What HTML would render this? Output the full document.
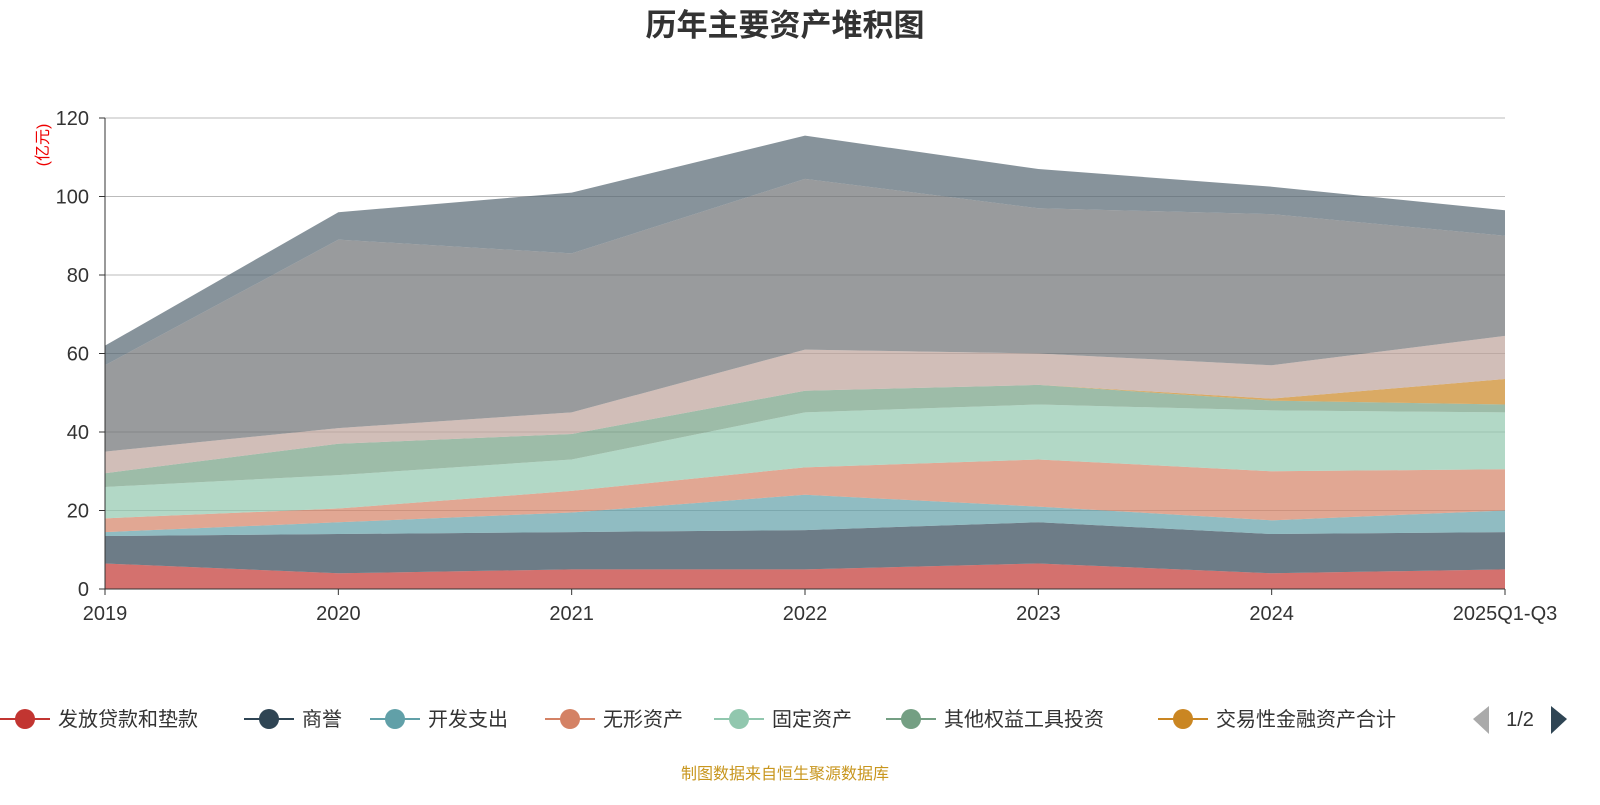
<!DOCTYPE html>
<html><head><meta charset="utf-8">
<style>
body{margin:0;background:#fff;font-family:"Liberation Sans","Noto Sans CJK SC",sans-serif;}
svg text{font-family:"Liberation Sans","Noto Sans CJK SC",sans-serif;}
</style></head>
<body>
<svg id="chart" width="1600" height="800">
<text x="785" y="36" text-anchor="middle" font-size="31" font-weight="bold" fill="#333">历年主要资产堆积图</text>
<text transform="translate(48,145) rotate(-90)" text-anchor="middle" font-size="16" fill="#e00">(亿元)</text>
<g id="grid"></g><g id="areas"></g><g id="axes"></g><g id="legend"></g>
<text x="785" y="779" text-anchor="middle" font-size="16" fill="#c8961e">制图数据来自恒生聚源数据库</text>
</svg>
<script>
const categories=["2019","2020","2021","2022","2023","2024","2025Q1-Q3"];
const seriesNames=["发放贷款和垫款","商誉","开发支出","无形资产","固定资产","其他权益工具投资","交易性金融资产合计","长期股权投资","货币资金","其他资产"];
const s1=[6.5,4,5,5,6.5,4,5];
const s2=[7,10,9.5,10,10.5,10,9.5];
const s3=[1,3,5,9,4,3.5,5.5];
const s4=[3.5,3.5,5.5,7,12,12.5,10.5];
const s5=[8,8.5,8,14,14,15.5,14.5];
const s6=[3.5,8,6.5,5.5,5,2.5,2];
const s7=[0,0,0,0,0,0.5,6.5];
const s8=[5.5,4,5.5,10.5,8,8.5,11];
const s9=[22,48,40.5,43.5,37,38.5,25.5];
const s10=[5,7,15.5,11,10,7,6.5];
const yTicks=[0,20,40,60,80,100,120];
const colors=["#c23531","#2f4554","#61a0a8","#d48265","#91c7ae","#749f83","#ca8622","#bda29a","#6e7074","#546570"];
const series=[s1,s2,s3,s4,s5,s6,s7,s8,s9,s10];
const X0=105,X1=1505,Y0=589,Y1=118,YMAX=120;
const xs=i=>X0+i*(X1-X0)/(categories.length-1);
const ys=v=>Y0-v*(Y0-Y1)/YMAX;
const NS="http://www.w3.org/2000/svg";
function mk(tag,attrs,parent){const e=document.createElementNS(NS,tag);for(const k in attrs)e.setAttribute(k,attrs[k]);parent.appendChild(e);return e;}
const grid=document.getElementById('grid'),areas=document.getElementById('areas'),axes=document.getElementById('axes'),legend=document.getElementById('legend');
yTicks.forEach(t=>{
 if(t>0){const l=mk('line',{x1:X0,x2:X1,y1:ys(t),y2:ys(t),stroke:'#bbb','stroke-width':1},grid);
 
 }
 const tx=mk('text',{x:X0-16,y:ys(t)+7,'text-anchor':'end','font-size':20,fill:'#333'},axes);tx.textContent=t;
 
 
 mk('line',{x1:X0-6,x2:X0,y1:ys(t),y2:ys(t),stroke:'#333'},axes);
});
let base=categories.map(()=>0);
series.forEach((s,k)=>{
 const top=base.map((b,i)=>b+s[i]);
 let d='M'+top.map((v,i)=>xs(i)+','+ys(v)).join(' L');
 for(let i=categories.length-1;i>=0;i--)d+=' L'+xs(i)+','+ys(base[i]);
 d+='Z';
 const p=mk('path',{d:d,fill:colors[k],'fill-opacity':0.7,stroke:'none'},areas);
 
 
 base=top;
});
mk('line',{x1:X0,x2:X0,y1:Y1,y2:Y0,stroke:'#333'},axes);
mk('line',{x1:X0,x2:X1,y1:Y0,y2:Y0,stroke:'#333'},axes);
categories.forEach((c,i)=>{
 mk('line',{x1:xs(i),x2:xs(i),y1:Y0,y2:Y0+6,stroke:'#333'},axes);
 const t=mk('text',{x:xs(i),y:Y0+31,'text-anchor':'middle','font-size':20,fill:'#333'},axes);t.textContent=c;
 
 
});
const legX=[0,244,370,545,714,886,1158];
for(let k=0;k<7;k++){
 const g=mk('g',{},legend);
 
 
 const x=legX[k];
 mk('line',{x1:x,x2:x+50,y1:719,y2:719,stroke:colors[k],'stroke-width':2},g);
 mk('circle',{cx:x+25,cy:719,r:10,fill:colors[k]},g);
 const t=mk('text',{x:x+58,y:726,'font-size':20,fill:'#333'},g);t.textContent=seriesNames[k];
}
const pp=mk('path',{d:'M1489,706 L1473,719 L1489,734Z',fill:'#aaa'},legend);


const pt=mk('text',{x:1520,y:726,'text-anchor':'middle','font-size':20,fill:'#333'},legend);pt.textContent='1/2';


const np=mk('path',{d:'M1551,706 L1567,719 L1551,734Z',fill:'#2f4554'},legend);


</script>
</body></html>
